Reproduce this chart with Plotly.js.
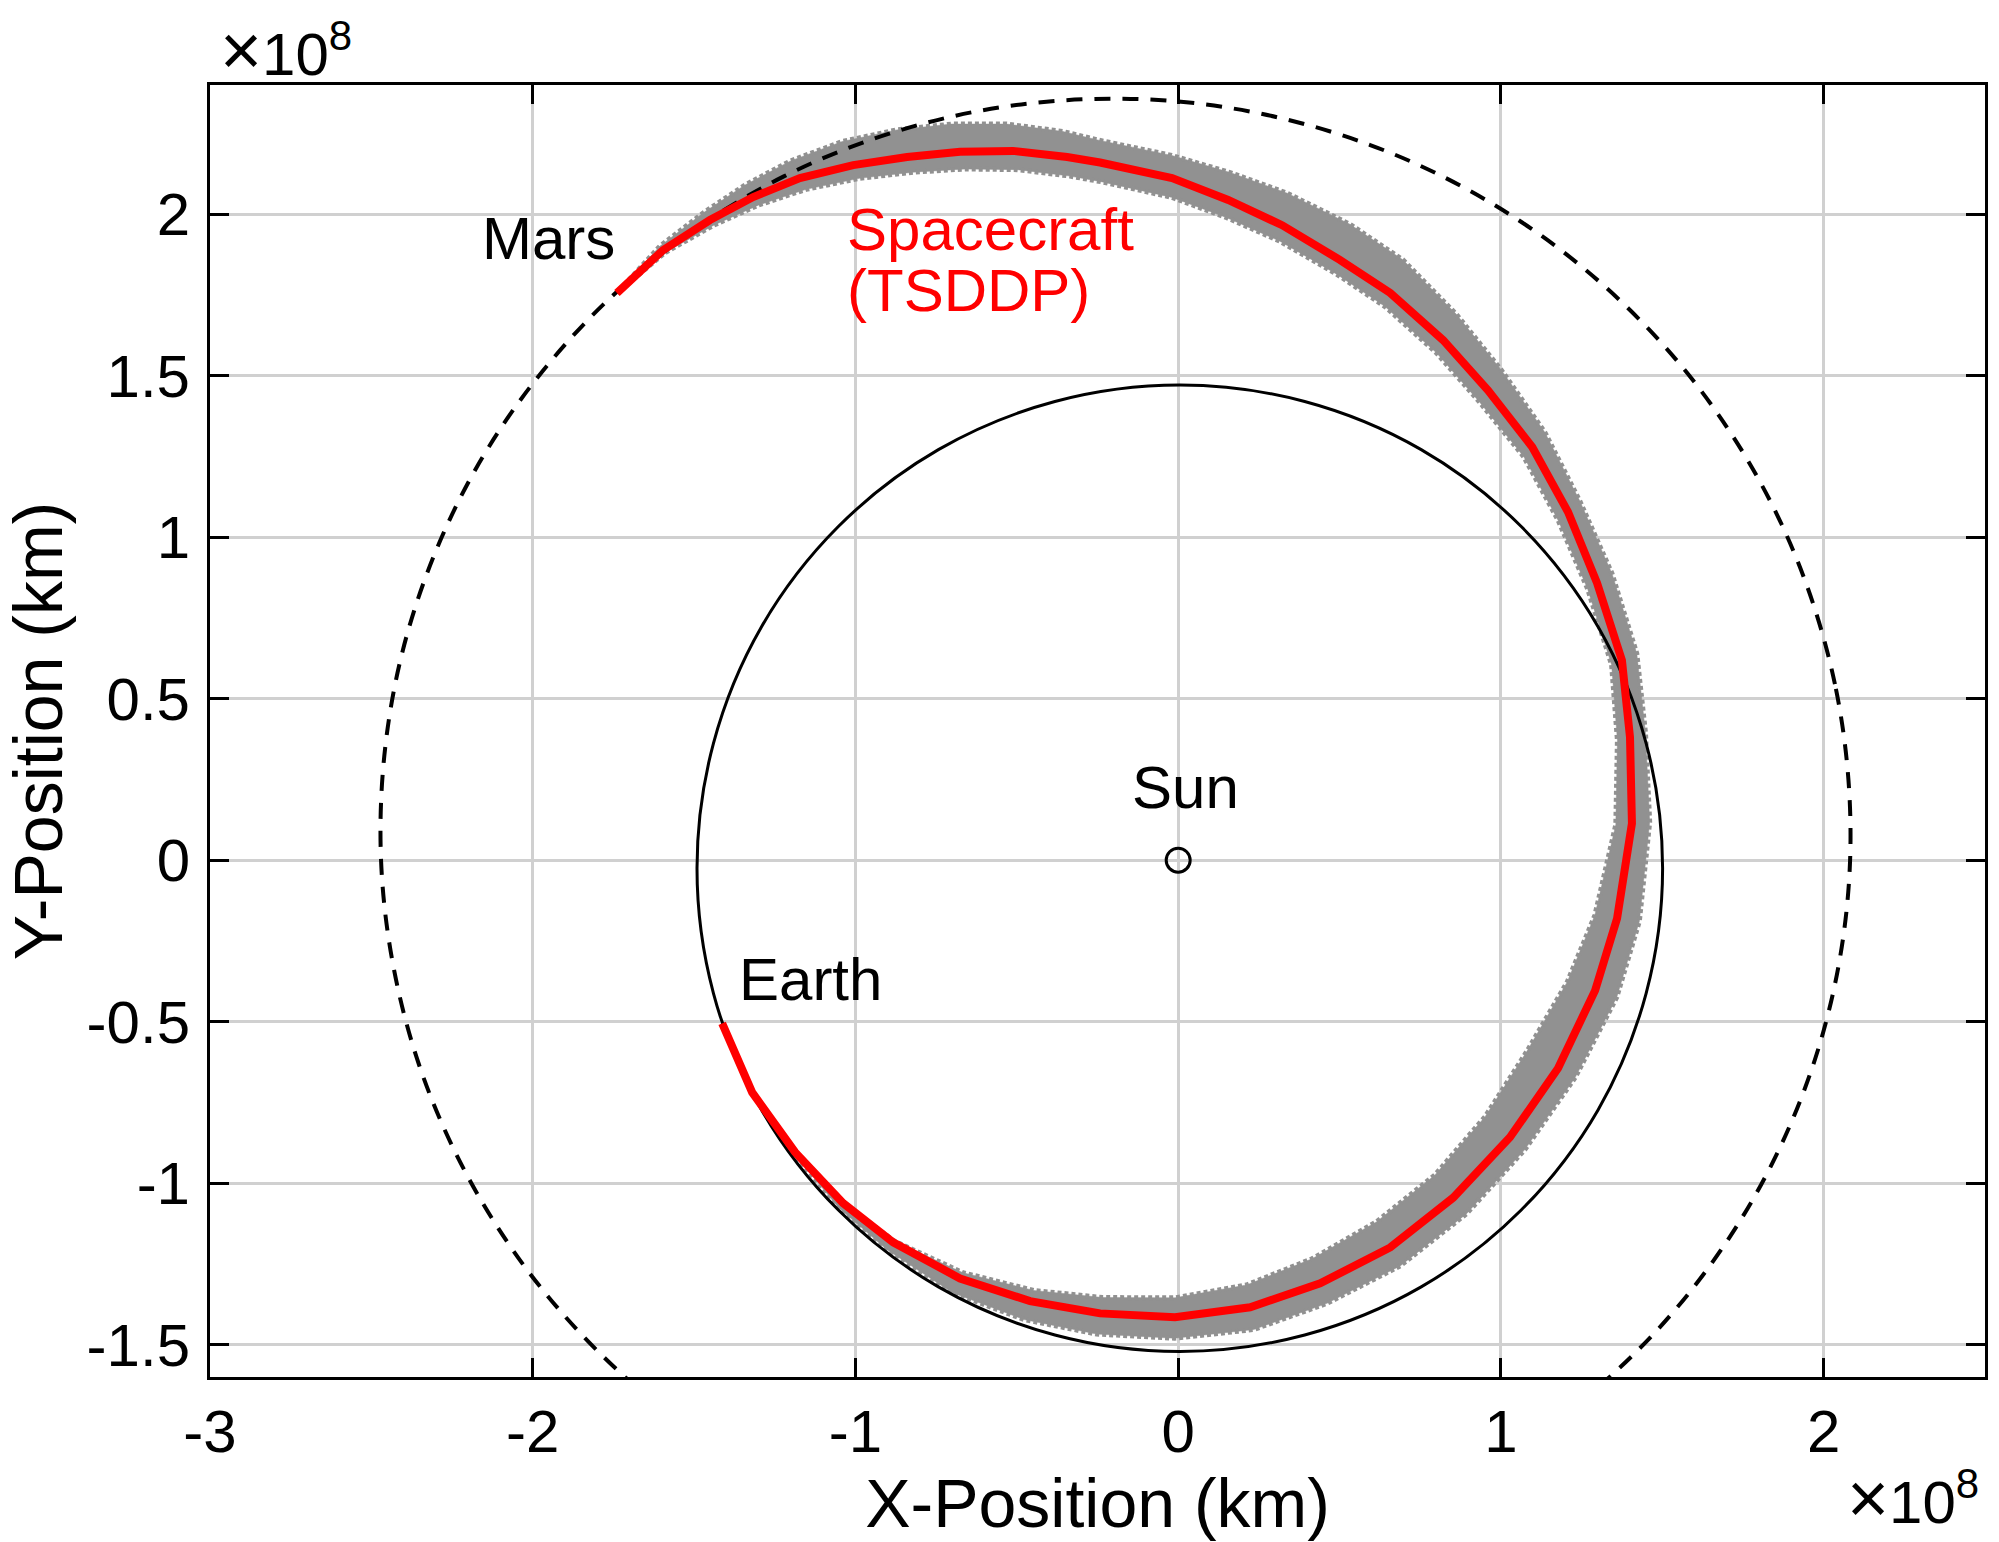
<!DOCTYPE html>
<html>
<head>
<meta charset="utf-8">
<script src="https://cdn.plot.ly/plotly-3.0.1.min.js"></script>
<style>html,body{margin:0;padding:0;background:#fff;}#chart{width:1999px;height:1542px;}</style>
</head>
<body>
<div id="chart"></div>
<script>
// Units: 1e8 km
const xTickVals = [-3, -2, -1, 0, 1, 2];
const xTickText = ["-3", "-2", "-1", "0", "1", "2"];
const yTickVals = [-1.5, -1, -0.5, 0, 0.5, 1, 1.5, 2];
const yTickText = ["-1.5", "-1", "-0.5", "0", "0.5", "1", "1.5", "2"];

// Earth orbit (solid black)
const earthX = [1.501,1.450,1.301,1.063,0.753,0.392,0.005,-0.382,-0.743,-1.053,-1.291,-1.440,-1.491,-1.440,-1.291,-1.053,-0.743,-0.382,0.005,0.392,0.753,1.063,1.301,1.450,1.501];
const earthY = [-0.025,0.362,0.723,1.033,1.271,1.420,1.471,1.420,1.271,1.033,0.723,0.362,-0.025,-0.412,-0.773,-1.083,-1.321,-1.470,-1.521,-1.470,-1.321,-1.083,-0.773,-0.412,-0.025];

// Mars orbit (dashed black)
const marsX = [2.082,2.035,1.855,1.546,1.119,0.593,0,-0.621,-1.222,-1.750,-2.157,-2.404,-2.470,-2.353,-2.070,-1.653,-1.141,-0.576,0,0.552,1.050,1.470,1.790,1.998,2.082];
const marsY = [0,0.545,1.071,1.546,1.938,2.215,2.349,2.319,2.117,1.750,1.245,0.644,0,-0.631,-1.195,-1.653,-1.976,-2.151,-2.177,-2.061,-1.819,-1.470,-1.034,-0.535,0];

// Spacecraft (TSDDP) nominal trajectory (red)
const scX = [-1.413,-1.320,-1.187,-1.038,-0.883,-0.676,-0.459,-0.242,-0.010,0.223,0.440,0.657,0.852,1.028,1.177,1.292,1.360,1.406,1.400,1.375,1.298,1.208,1.097,0.960,0.821,0.657,0.502,0.322,0.155,-0.019,-0.242,-0.344,-0.512,-0.676,-0.840,-1.007,-1.172,-1.317,-1.451,-1.596,-1.739];
const scY = [-0.505,-0.719,-0.904,-1.062,-1.183,-1.295,-1.365,-1.403,-1.415,-1.384,-1.310,-1.199,-1.045,-0.858,-0.644,-0.403,-0.180,0.114,0.381,0.619,0.858,1.078,1.279,1.455,1.610,1.756,1.858,1.966,2.044,2.112,2.160,2.177,2.196,2.193,2.177,2.152,2.112,2.053,1.982,1.889,1.756];

// Dispersed trajectories envelope (gray): outer and inner edges
const bandOuterX = [-1.413,-1.320,-1.191,-1.052,-0.901,-0.699,-0.478,-0.253,-0.011,0.234,0.461,0.688,0.893,1.074,1.230,1.359,1.429,1.461,1.448,1.421,1.344,1.245,1.136,1.001,0.862,0.696,0.532,0.338,0.161,-0.020,-0.250,-0.357,-0.531,-0.703,-0.872,-1.041,-1.201,-1.341,-1.469,-1.606,-1.739];
const bandOuterY = [-0.505,-0.719,-0.907,-1.076,-1.207,-1.339,-1.422,-1.467,-1.480,-1.453,-1.372,-1.256,-1.095,-0.896,-0.673,-0.424,-0.189,0.118,0.394,0.640,0.888,1.111,1.325,1.518,1.690,1.859,1.969,2.065,2.129,2.182,2.230,2.256,2.279,2.279,2.261,2.225,2.165,2.091,2.006,1.901,1.756];
const bandInnerX = [-1.413,-1.320,-1.187,-1.038,-0.880,-0.667,-0.448,-0.234,-0.010,0.212,0.415,0.614,0.795,0.951,1.081,1.206,1.291,1.356,1.361,1.343,1.269,1.178,1.071,0.935,0.801,0.641,0.490,0.314,0.151,-0.019,-0.235,-0.335,-0.498,-0.660,-0.822,-0.988,-1.153,-1.301,-1.439,-1.590,-1.739];
const bandInnerY = [-0.505,-0.719,-0.904,-1.062,-1.179,-1.277,-1.332,-1.354,-1.355,-1.315,-1.234,-1.120,-0.975,-0.794,-0.591,-0.376,-0.171,0.110,0.371,0.605,0.839,1.051,1.249,1.417,1.570,1.714,1.815,1.917,1.989,2.052,2.100,2.118,2.138,2.140,2.130,2.111,2.077,2.028,1.966,1.881,1.756];

const sunX = [0];
const sunY = [0];

const labelNames = ["Mars", "Earth", "Sun", "Spacecraft", "(TSDDP)"];
const labelX = [-2.164, -1.367, 0.022, -1.032, -1.032];
const labelY = [1.815, -0.480, 0.114, 1.843, 1.654];
const labelColor = ["#000000", "#000000", "#000000", "#ff0000", "#ff0000"];
const labelAnchor = ["left", "left", "center", "left", "left"];

const FONT = "'Liberation Sans', Arial, Helvetica, sans-serif";
const GRAY = "#919191";

const bandX = bandOuterX.concat(bandInnerX.slice().reverse());
const bandY = bandOuterY.concat(bandInnerY.slice().reverse());

const traces = [
  {x: bandX, y: bandY, type: "scatter", mode: "lines", fill: "toself",
   fillcolor: GRAY, line: {color: GRAY, width: 0.5}, hoverinfo: "skip", name: "dispersion"},
  {x: bandOuterX, y: bandOuterY, type: "scatter", mode: "lines",
   line: {color: GRAY, width: 5, dash: "4px,3px"}, hoverinfo: "skip", name: "outer"},
  {x: bandInnerX, y: bandInnerY, type: "scatter", mode: "lines",
   line: {color: GRAY, width: 5, dash: "4px,3px"}, hoverinfo: "skip", name: "inner"},
  {x: earthX, y: earthY, type: "scatter", mode: "lines",
   line: {color: "#000000", width: 3, shape: "spline"}, name: "Earth orbit"},
  {x: marsX, y: marsY, type: "scatter", mode: "lines",
   line: {color: "#000000", width: 4, shape: "spline", dash: "16px,12px"}, name: "Mars orbit"},
  {x: scX, y: scY, type: "scatter", mode: "lines",
   line: {color: "#ff0000", width: 8}, name: "Spacecraft (TSDDP)"},
  {x: sunX, y: sunY, type: "scatter", mode: "markers",
   marker: {symbol: "circle-open", size: 24, color: "#000000", line: {width: 3, color: "#000000"}}, name: "Sun"}
];

const annotations = labelNames.map((t, i) => ({
  text: t, x: labelX[i], y: labelY[i], xref: "x", yref: "y",
  xanchor: labelAnchor[i], yanchor: "bottom", showarrow: false,
  font: {family: FONT, size: 60, color: labelColor[i]}
}));
const expText = "<span style='font-size:72px'>\u00d7</span>10<sup>8</sup>";
annotations.push({
  text: expText, xref: "paper", yref: "paper", x: 0.0045, y: 0.9946,
  xanchor: "left", yanchor: "bottom", showarrow: false,
  font: {family: FONT, size: 60, color: "#000000"}
});
annotations.push({
  text: expText, xref: "paper", yref: "paper", x: 0.921, y: -0.0612,
  xanchor: "left", yanchor: "top", showarrow: false,
  font: {family: FONT, size: 60, color: "#000000"}
});

const axisCommon = {
  ticks: "inside", ticklen: 19, tickwidth: 3, tickcolor: "#000000",
  showline: true, linewidth: 3, linecolor: "#000000", mirror: "ticks",
  showgrid: true, gridcolor: "#d0d0d0", gridwidth: 3, zeroline: false,
  tickfont: {family: FONT, size: 60, color: "#000000"},
  tickmode: "array", fixedrange: true
};

const layout = {
  width: 1999, height: 1542,
  margin: {l: 210, r: 14, t: 85, b: 165, pad: 0},
  paper_bgcolor: "#ffffff", plot_bgcolor: "#ffffff",
  showlegend: false,
  font: {family: FONT, color: "#000000"},
  xaxis: Object.assign({}, axisCommon, {
    range: [-3, 2.5], tickvals: xTickVals, ticktext: xTickText,
    ticklabelstandoff: 0,
    title: {text: "X-Position (km)", font: {family: FONT, size: 68, color: "#000000"}, standoff: 3}
  }),
  yaxis: Object.assign({}, axisCommon, {
    range: [-1.6, 2.4], tickvals: yTickVals, ticktext: yTickText,
    ticklabelstandoff: 5,
    title: {text: "Y-Position (km)", font: {family: FONT, size: 68, color: "#000000"}, standoff: 29}
  }),
  annotations: annotations
};

Plotly.newPlot("chart", traces, layout, {displayModeBar: false, staticPlot: true});
</script>
</body>
</html>
